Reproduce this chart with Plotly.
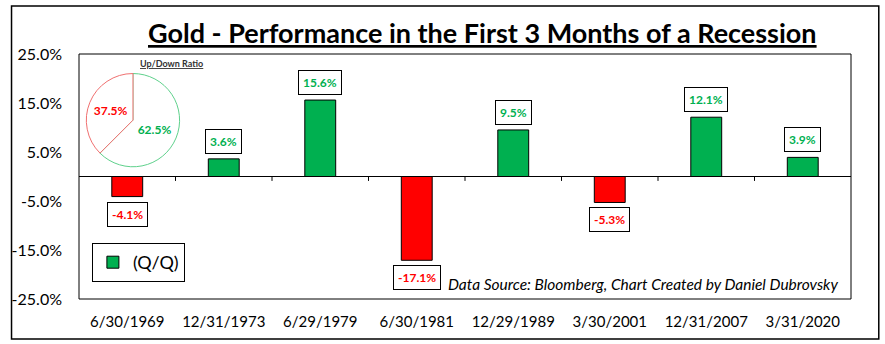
import plotly.graph_objects as go

# Quarter-end dates at the start of each recession
dates = ["6/30/1969", "12/31/1973", "6/29/1979", "6/30/1981",
         "12/29/1989", "3/30/2001", "12/31/2007", "3/31/2020"]
# Gold performance over the first 3 months (%)
returns = [-4.1, 3.6, 15.6, -17.1, 9.5, -5.3, 12.1, 3.9]

# Up/down ratio breakdown
ratio_labels = ["Up", "Down"]
ratio_values = [62.5, 37.5]

y_ticks = [-25, -15, -5, 5, 15, 25]

GREEN = "#00B050"
RED = "#FF0000"
FONT = "Lato"

bar_colors = [GREEN if v >= 0 else RED for v in returns]

fig = go.Figure()

fig.add_trace(go.Bar(
    x=dates, y=returns, name="(Q/Q)",
    marker=dict(color=bar_colors, line=dict(color="black", width=1)),
    width=0.32, showlegend=False,
))
# legend entry in the series' base colour
fig.add_trace(go.Bar(
    x=[None], y=[None], name="(Q/Q)",
    marker=dict(color=GREEN, line=dict(color="black", width=1)),
    showlegend=True,
))

fig.add_trace(go.Pie(
    labels=ratio_labels, values=ratio_values,
    sort=False, direction="clockwise", rotation=0,
    marker=dict(colors=["white", "white"],
                line=dict(color=["#5FD18C", "#F07070"], width=1)),
    texttemplate="%{value:.1f}%", textposition="inside",
    insidetextorientation="horizontal",
    textfont=dict(color=[GREEN, RED], size=12, family=FONT, weight="bold"),
    domain=dict(x=[0.0095, 0.1303], y=[0.535, 0.925]),
    showlegend=False, hoverinfo="skip",
))

# value labels in boxes above / below each bar
for d, v in zip(dates, returns):
    fig.add_annotation(
        x=d, y=v, xref="x", yref="y",
        text=f"<b>{v:.1f}%</b>", showarrow=False,
        yanchor="bottom" if v >= 0 else "top",
        yshift=5 if v >= 0 else -5,
        font=dict(color=GREEN if v >= 0 else RED, size=12, family=FONT),
        bgcolor="white", bordercolor="black", borderwidth=1, borderpad=4,
    )

# tick marks on the zero line between categories
for i in range(1, len(dates)):
    fig.add_shape(type="line", xref="x", yref="y",
                  x0=i - 0.5, x1=i - 0.5, y0=0, y1=-0.9,
                  line=dict(color="black", width=1))

# inner plot frame
fig.add_shape(type="rect", xref="paper", yref="paper", x0=0, x1=1, y0=0, y1=1,
              line=dict(color="black", width=1))
# outer chart frame
fig.add_shape(type="rect", xref="paper", yref="paper",
              x0=(5 - 73) / 778, x1=(879 - 73) / 778,
              y0=(299 - 339) / 245, y1=(299 - 6) / 245,
              line=dict(color="black", width=1.5))

fig.add_annotation(
    xref="paper", yref="paper", x=0.523, y=(299 - 32) / 245, yanchor="middle",
    text="<b><u>Gold - Performance in the First 3 Months of a Recession</u></b>",
    showarrow=False, font=dict(size=27, family=FONT, color="black"),
)
fig.add_annotation(
    xref="paper", yref="paper", x=(132 - 73) / 778, y=(299 - 63) / 245,
    yanchor="middle",
    text="<b><u>Up/Down Ratio</u></b>", showarrow=False,
    font=dict(size=9, family=FONT, color="#333333"),
)
fig.add_annotation(
    xref="paper", yref="paper", x=(840 - 73) / 778, y=(299 - 284) / 245,
    xanchor="right", yanchor="middle",
    text="<i>Data Source: Bloomberg, Chart Created by Daniel Dubrovsky</i>",
    showarrow=False, font=dict(size=15.5, family=FONT, color="black"),
)

fig.update_layout(
    width=885, height=344,
    margin=dict(l=73, r=34, t=54, b=45),
    paper_bgcolor="white", plot_bgcolor="white",
    font=dict(family=FONT, color="black"),
    barmode="overlay",
    legend=dict(
        x=(86 - 73) / 778, y=(299 - 243) / 245, xanchor="left", yanchor="top",
        bordercolor="black", borderwidth=1, bgcolor="white",
        font=dict(size=18, family=FONT), itemwidth=30,
    ),
    xaxis=dict(
        type="category", showline=False, showgrid=False, ticks="",
        tickfont=dict(size=15), ticklabelstandoff=12,
    ),
    yaxis=dict(
        range=[-25, 25], tickvals=y_ticks,
        ticktext=[f"{t:.1f}%" for t in y_ticks],
        showgrid=False, zeroline=True, zerolinecolor="black", zerolinewidth=1,
        showline=False, ticks="", tickfont=dict(size=16), ticklabelstandoff=16,
    ),
)

fig.write_html("out.html")
